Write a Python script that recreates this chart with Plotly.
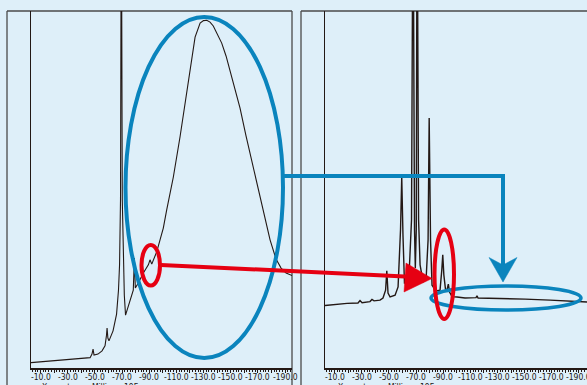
import plotly.graph_objects as go

W, H = 587, 385

# ---- data ----
left_ppm = [-3.0, -13.3, -24.4, -35.4, -42.8, -46.5, -47.9, -48.7, -49.4, -52.3, -55.3, -57.5, -58.6, -59.0,
            -59.6, -60.4, -63.4, -66.0, -67.4, -68.2, -68.9, -69.5, -70.2, -71.0, -71.7, -72.6, -74.8, -77.0,
            -78.3, -79.1, -79.8, -82.0, -85.7, -89.4, -90.6, -91.9, -95.6,
            -98.0, -100.4, -102.9, -107.8, -112.7, -116.4, -120.1, -123.8, -127.5, -130.0, -132.4, -134.8,
            -137.2, -140.0, -143.4, -146.6, -149.5, -151.8, -156.9, -161.3, -165.7, -170.2, -174.6, -179.0,
            -183.4, -187.1, -190.8, -195.2]
left_int = [1.5, 1.8, 2.1, 2.4, 2.7, 2.9, 3.9, 5.3, 3.6, 3.9, 4.8, 6.2, 9.2, 11.2,
            8.4, 7.6, 10.4, 15.1, 21.8, 28.9, 47.1, 140, 47.1, 31.7, 20.4, 14.8, 17.4, 19.6,
            21.8, 30.8, 22.4, 23.8, 26.6, 28.9, 30.3, 29.1, 32.6,
            35.9, 39.2, 44.3, 53.5, 64.7, 74.2, 84.3, 92.7, 96.6, 97.3, 97.4, 96.9,
            95.8, 93.8, 91.0, 87.4, 83.5, 80.4, 72.8, 65.0, 57.7, 49.9, 43.1, 35.9,
            30.5, 28.0, 26.6, 25.9]

right_ppm = [-3.0, -10.4, -19.2, -27.3, -28.8, -30.3, -36.1, -37.6, -39.1, -43.5, -45.7, -47.6, -48.5, -49.4,
             -50.9, -54.6, -56.8, -58.6, -59.5, -60.4, -61.5, -63.0, -64.9, -66.7, -67.8, -68.9, -69.5, -70.2,
             -70.8, -71.9, -73.0, -75.2, -77.4, -78.9, -79.7, -80.7, -81.8, -84.7, -87.7, -89.0, -89.7, -90.5,
             -91.7, -92.8, -93.8, -94.7, -96.5, -100.2, -106.1, -114.2, -114.9, -115.7, -131.9, -150.3,
             -168.7, -183.5, -195.9]
right_int = [17.5, 17.8, 18.1, 18.2, 18.9, 18.3, 18.6, 19.2, 18.8, 19.0, 19.6, 21.8, 27.2, 21.0,
             19.9, 20.4, 22.7, 38.7, 53.5, 37.3, 23.8, 23.8, 26.1, 41.5, 140, 38.7, 28.0, 38.7,
             140, 41.5, 28.9, 24.1, 24.6, 35.9, 70.0, 35.9, 23.2, 21.6, 21.8, 27.5, 31.7, 26.1,
             22.1, 21.8, 23.5, 21.3, 20.0, 19.9, 19.6, 19.7, 20.2, 19.6, 19.5, 19.3,
             19.0, 18.8, 18.5]

tick_values = [-10, -20, -30, -40, -50, -60, -70, -80, -90, -100, -110, -120, -130, -140, -150,
               -160, -170, -180, -190]
label_values = [-10, -30, -50, -70, -90, -110, -130, -150, -170, -190]
label_texts = ["-10.0", "-30.0", "-50.0", "-70.0", "-90.0", "-110.0", "-130.0", "-150.0", "-170.0", "-190.0"]
axis_title = "X : parts per Million : 19F"

# ---- styles ----
BG = "#DEEFF9"
INK = "#231815"
FRAME = "#4a4a4a"
BLUE = "#0A84BD"
RED = "#E60012"
FONT = "Liberation Sans Narrow, DejaVu Sans Condensed, Arial Narrow, sans-serif"


def fx(p):
    return p / W


def fy(p):
    return 1 - p / H


fig = go.Figure()
fig.add_trace(go.Scatter(x=left_ppm, y=left_int, mode="lines", xaxis="x", yaxis="y",
                         line=dict(color=INK, width=1.1), showlegend=False, hoverinfo="skip"))
fig.add_trace(go.Scatter(x=right_ppm, y=right_int, mode="lines", xaxis="x2", yaxis="y2",
                         line=dict(color=INK, width=1.4), showlegend=False, hoverinfo="skip"))

xcommon = dict(range=[-3.0, -195.15], showline=True, linecolor=INK, linewidth=1.5,
               ticks="outside", ticklen=3.5, tickwidth=1, tickcolor=INK,
               tickmode="array", tickvals=tick_values, showticklabels=False,
               minor=dict(ticks="outside", ticklen=2.5, tickwidth=0.8, tickcolor=INK, dtick=2, tick0=0),
               showgrid=False, zeroline=False)
ycommon = dict(range=[0, 100], showline=True, linecolor=INK, linewidth=1.3,
               showticklabels=False, ticks="", showgrid=False, zeroline=False)

layout_x1 = dict(xcommon, domain=[fx(31), fx(292)], anchor="y")
layout_x2 = dict(xcommon, domain=[fx(325), 1.0], anchor="y2")
layout_x2["range"] = [-3.0, -195.9]
layout_y1 = dict(ycommon, domain=[fy(368), fy(11)], anchor="x")
layout_y2 = dict(ycommon, domain=[fy(368), fy(11)], anchor="x2")

shapes = []
# panel frames
for (x_left, x_right) in [(7, 292), (301, 590)]:
    shapes.append(dict(type="line", xref="paper", yref="paper", x0=fx(x_left), x1=fx(x_left),
                       y0=fy(11), y1=fy(400), line=dict(color=FRAME, width=1.3), layer="below"))
    shapes.append(dict(type="line", xref="paper", yref="paper", x0=fx(x_left), x1=fx(x_right),
                       y0=fy(11), y1=fy(11), line=dict(color=FRAME, width=1.3), layer="below"))
shapes.append(dict(type="line", xref="paper", yref="paper", x0=fx(292), x1=fx(292),
                   y0=fy(11), y1=fy(400), line=dict(color=FRAME, width=1.3), layer="below"))

# big blue ellipse
shapes.append(dict(type="circle", xref="paper", yref="paper", x0=fx(125.5), x1=fx(283),
                   y0=fy(358), y1=fy(17), line=dict(color=BLUE, width=4)))
# blue connector
shapes.append(dict(type="path", xref="paper", yref="paper",
                   path=f"M {fx(284)},{fy(176)} L {fx(503)},{fy(176)} L {fx(503)},{fy(266)}",
                   line=dict(color=BLUE, width=4)))
shapes.append(dict(type="path", xref="paper", yref="paper",
                   path=f"M {fx(489)},{fy(257.5)} L {fx(503)},{fy(265)} L {fx(517)},{fy(257.5)} "
                        f"L {fx(503)},{fy(282)} Z",
                   fillcolor=BLUE, line=dict(color=BLUE, width=0.5)))
# small blue ellipse
shapes.append(dict(type="circle", xref="paper", yref="paper", x0=fx(431), x1=fx(581),
                   y0=fy(310), y1=fy(286), line=dict(color=BLUE, width=3.5)))
# red ellipses and arrow
shapes.append(dict(type="circle", xref="paper", yref="paper", x0=fx(141.5), x1=fx(160),
                   y0=fy(285.5), y1=fy(245), line=dict(color=RED, width=4)))
shapes.append(dict(type="line", xref="paper", yref="paper", x0=fx(161), x1=fx(410),
                   y0=fy(265), y1=fy(276.7), line=dict(color=RED, width=4)))
shapes.append(dict(type="path", xref="paper", yref="paper",
                   path=f"M {fx(406)},{fy(263)} L {fx(432)},{fy(278.5)} L {fx(404)},{fy(292)} Z",
                   fillcolor=RED, line=dict(color=RED, width=0.5)))
shapes.append(dict(type="circle", xref="paper", yref="paper", x0=fx(434.5), x1=fx(454),
                   y0=fy(319), y1=fy(229.5), line=dict(color=RED, width=4)))

annotations = []
# tick labels, placed on each x axis scale
for xref in ("x", "x2"):
    for v, t in zip(label_values, label_texts):
        annotations.append(dict(text=t, xref=xref, yref="paper", x=v, y=fy(376.5),
                                xanchor="center", yanchor="middle", showarrow=False, borderpad=0,
                                font=dict(family=FONT, size=8.5, color=INK)))
for x_start in (41, 337):
    annotations.append(dict(text=axis_title, xref="paper", yref="paper", x=fx(x_start), y=fy(380.5),
                            xanchor="left", yanchor="top", showarrow=False, borderpad=0,
                            font=dict(family=FONT, size=8.5, color=INK)))

fig.update_layout(width=W, height=H, autosize=False,
                  margin=dict(l=0, r=0, t=0, b=0),
                  paper_bgcolor=BG, plot_bgcolor=BG,
                  xaxis=layout_x1, yaxis=layout_y1, xaxis2=layout_x2, yaxis2=layout_y2,
                  shapes=shapes, annotations=annotations, showlegend=False)

page_fix = ("document.body.style.margin='0';document.body.style.padding='0';"
            "document.body.style.background='" + BG + "';document.body.style.overflow='hidden';")
fig.write_html("out.html", post_script=page_fix, config={"displayModeBar": False})
